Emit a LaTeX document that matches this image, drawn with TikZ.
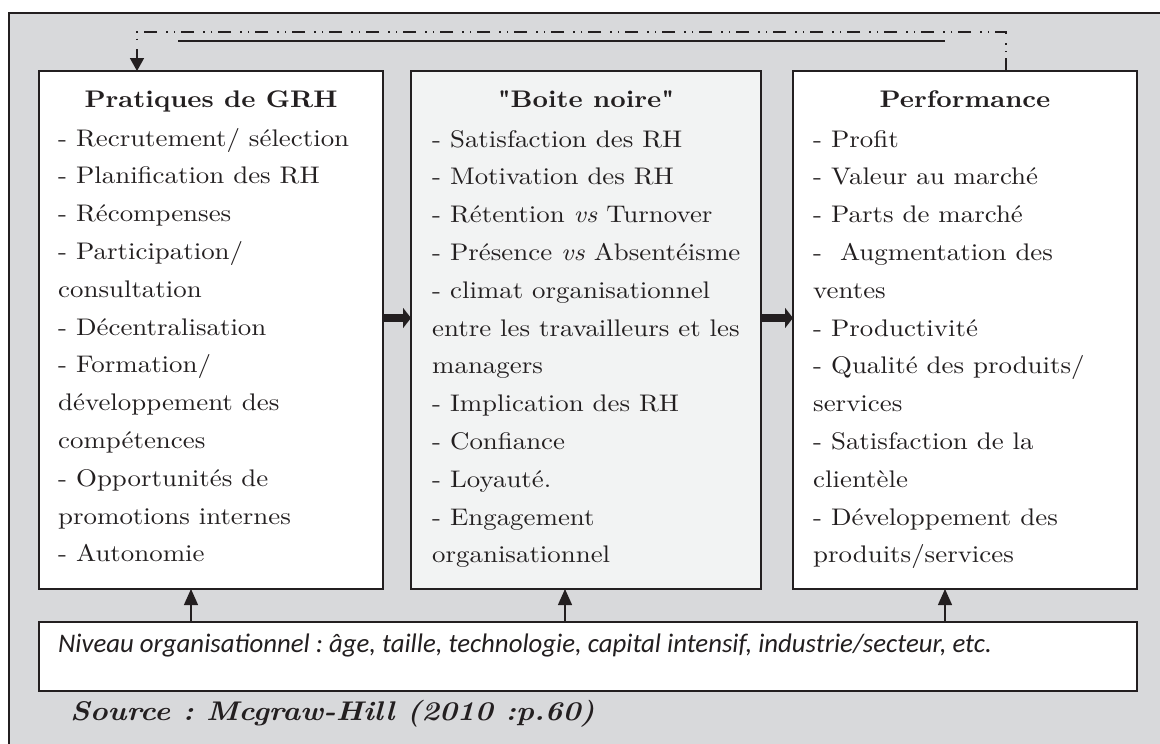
\documentclass[tikz,border=0pt]{standalone}
\usepackage{fontspec}
\setmainfont{lmroman10}[Extension=.otf, UprightFont=*-regular, BoldFont=*-bold, ItalicFont=*-italic, BoldItalicFont=*-bolditalic, FakeStretch=1.12]
\newfontfamily\qfont{lmroman10}[Extension=.otf, UprightFont=*-bold, Ligatures=TeXOff, FakeStretch=1.12]
\newfontfamily\carlito{Carlito}
\usetikzlibrary{arrows.meta}
\frenchspacing
\definecolor{bggray}{HTML}{D8D9DB}
\definecolor{midfill}{HTML}{F2F3F3}
\definecolor{ink}{HTML}{231F20}
\tikzset{
 panel/.style={draw=ink, line width=1.8pt, fill=white, anchor=north west, inner sep=0pt, outer sep=0pt},
 itemtext/.style={anchor=base west, inner sep=0pt, font=\fontsize{24}{28}\selectfont, text=ink},
 titletext/.style={anchor=base, inner sep=0pt, font=\fontsize{24}{28}\selectfont\bfseries, text=ink},
 bigarrow/.style={draw=ink, line width=8.5pt, -{Triangle[length=8pt,width=20pt]}},
 uparrow/.style={draw=ink, line width=1.3pt, -{Triangle[length=16pt,width=14pt]}},
 feedback/.style={draw=ink, line width=1.5pt, dash pattern=on 13pt off 6pt on 1.5pt off 6pt on 1.5pt off 9pt, -{Triangle[length=13pt,width=14pt]}},
 rule/.style={draw=ink, line width=1.5pt},
}
\begin{document}
\begin{tikzpicture}[x=1pt,y=-1pt]
\useasboundingbox (0,0) rectangle (1160,744);
\fill[white] (0,0) rectangle (1160,744);
\draw[ink, line width=1.5pt, fill=bggray] (9,13) rectangle (1185,775);

% boxes
\node[panel, minimum width=344pt, minimum height=518pt] (L) at (39,71) {};
\node[panel, fill=midfill, minimum width=350pt, minimum height=518pt] (M) at (411,71) {};
\node[panel, minimum width=344pt, minimum height=518pt] (R) at (793,71) {};
\node[panel, minimum width=1098pt, minimum height=69pt] (B) at (39,622) {};

% titles
\node[titletext] (Lt) at (211,107) {Pratiques de GRH};
\node[titletext] (Mt) at (586,107) {{\qfont "}Boite noire{\qfont "}};
\node[titletext] (Rt) at (965,107) {Performance};

% items
\foreach \t [count=\i] in {- Recrutement/ sélection, - Planification des RH, - Récompenses, - Participation/, consultation, - Décentralisation, - Formation/, développement des, compétences, - Opportunités de, promotions internes, - Autonomie}
  \node[itemtext] (L\i) at (58,{146+37.8*(\i-1)}) {\t};
\foreach \t [count=\i] in {- Satisfaction des RH, - Motivation des RH, - Rétention \textit{vs} Turnover, - Présence \textit{vs} Absentéisme, - climat organisationnel, entre les travailleurs et les, managers, - Implication des RH, - Confiance, - Loyauté., - Engagement, organisationnel}
  \node[itemtext] (M\i) at (432,{147+37.8*(\i-1)}) {\t};
\foreach \t [count=\i] in {- Profit, - Valeur au marché, - Parts de marché, -\ \ Augmentation des, ventes, - Productivité, - Qualité des produits/, services, - Satisfaction de la, clientèle, - Développement des, produits/services}
  \node[itemtext] (R\i) at (813,{147+37.8*(\i-1)}) {\t};

% bottom texts
\node[anchor=base west, inner sep=0pt, text=ink, font=\carlito\itshape\fontsize{26.8}{30}\selectfont] (Bt) at (58,652) {Niveau organisationnel : âge, taille, technologie, capital intensif, industrie/secteur, etc.};
\node[anchor=base west, inner sep=0pt, text=ink, font=\fontsize{27}{30}\selectfont\bfseries\itshape] (src) at (70,720) {Source : Mcgraw-Hill (2010 :p.60)};

% arrows between boxes
\draw[bigarrow] ([yshift=12pt]L.east) -- ([yshift=12pt]M.west);
\draw[bigarrow] ([yshift=12pt]M.east) -- ([yshift=12pt]R.west);

% arrows from bottom box
\draw[uparrow] ([xshift=-20pt]L.south |- B.north) -- ([xshift=-20pt]L.south);
\draw[uparrow] ([xshift=-21pt]M.south |- B.north) -- ([xshift=-21pt]M.south);
\draw[uparrow] ([xshift=-20pt]R.south |- B.north) -- ([xshift=-20pt]R.south);

% feedback loop
\draw[feedback] ([xshift=41pt]R.north) -- ++(0,-39) -| ([xshift=-74pt]L.north);
\coordinate (s1) at (178,41);
\coordinate (s2) at (945,41);
\draw[rule] (s1) -- (s2);
\end{tikzpicture}
\end{document}
